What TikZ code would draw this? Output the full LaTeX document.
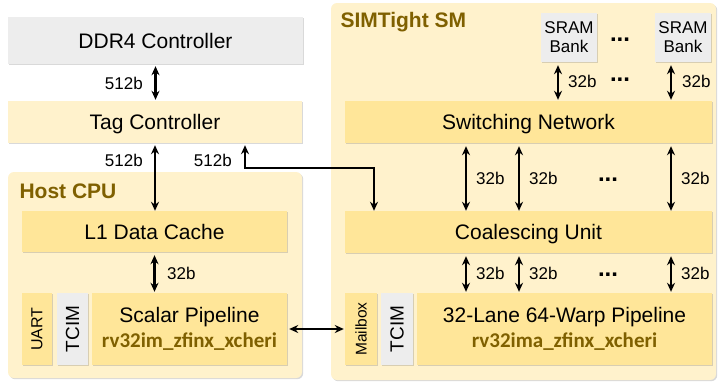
\documentclass[tikz,border=0pt]{standalone}
\usepackage{fontspec}
\setmainfont{Liberation Sans}
\newfontfamily\isafont{Carlito}
\usetikzlibrary{arrows.meta,shadows}

\definecolor{palegold}{HTML}{FFF2CC}
\definecolor{midgold}{HTML}{FFE699}
\definecolor{boxgray}{HTML}{EDEDED}
\definecolor{olive}{HTML}{7F6000}

\tikzset{
    base/.style={draw=none, inner sep=0pt, font=\fontsize{21}{24}\selectfont,
        drop shadow={shadow xshift=1.2pt, shadow yshift=-1.2pt, opacity=0.25, fill=black!60}},
    oneline/.style={text height=15pt, text depth=0pt},
    grayblk/.style={base, fill=boxgray},
    paleblk/.style={base, fill=palegold},
    midblk/.style={base, fill=midgold},
    group/.style={base, fill=palegold, rounded corners=6pt},
    grouptitle/.style={anchor=west, text=olive, font=\fontsize{21}{24}\selectfont\bfseries},
    link/.style={line width=2.4pt, {Stealth[length=9pt,width=8pt]}-{Stealth[length=9pt,width=8pt]}},
    width/.style={font=\fontsize{17}{20}\selectfont, inner sep=0pt},
    dots/.style={font=\fontsize{24}{26}\selectfont\bfseries, inner sep=0pt},
}

\begin{document}
\begin{tikzpicture}[x=1pt, y=-1pt]
    \useasboundingbox (0,0) rectangle (719,383);

    % outer groups
    \node[group, minimum width=294pt, minimum height=206pt] (host) at (155,275) {};
    \node[group, minimum width=385pt, minimum height=377pt] (sm) at (523.5,191.5) {};
    \node[grouptitle] (hosttitle) at (16,191) {Host CPU};
    \node[grouptitle] (smtitle) at (337,22) {SIMTight SM};

    % memory side
    \node[grayblk, oneline, minimum width=295pt, minimum height=47pt] (ddr) at (155.5,40.5) {DDR4 Controller};
    \node[paleblk, oneline, minimum width=294pt, minimum height=42pt] (tag) at (155,122) {Tag Controller};

    % host cpu
    \node[midblk, oneline, minimum width=265pt, minimum height=41pt] (l1) at (154.5,231.5) {L1 Data Cache};
    \node[midblk, minimum width=30pt, minimum height=72pt] (uart) at (37,329)
        {\rotatebox{90}{\fontsize{16}{18}\selectfont UART}};
    \node[grayblk, minimum width=31pt, minimum height=72pt] (tcimhost) at (72.5,329)
        {\rotatebox{90}{\fontsize{19}{21}\selectfont TCIM}};
    \node[midblk, minimum width=195pt, minimum height=72pt, align=center] (scalar) at (189.5,329)
        {Scalar Pipeline\\[1pt] {\isafont\bfseries\color{olive}rv32im\_zfinx\_xcheri}};

    % simt side
    \node[grayblk, minimum width=56pt, minimum height=49pt, align=center,
        font=\fontsize{17}{19}\selectfont] (sramA) at (569,37.5) {SRAM\\Bank};
    \node[grayblk, minimum width=56pt, minimum height=49pt, align=center,
        font=\fontsize{17}{19}\selectfont] (sramB) at (683,37.5) {SRAM\\Bank};
    \node[midblk, oneline, minimum width=367pt, minimum height=42pt] (switch) at (528.5,122) {Switching Network};
    \node[midblk, oneline, minimum width=367pt, minimum height=42pt] (coal) at (528.5,232) {Coalescing Unit};
    \node[midblk, minimum width=32pt, minimum height=72pt] (mailbox) at (361,329)
        {\rotatebox{90}{\fontsize{15.5}{17}\selectfont Mailbox}};
    \node[grayblk, minimum width=32pt, minimum height=72pt] (tcimsm) at (397,329)
        {\rotatebox{90}{\fontsize{19}{21}\selectfont TCIM}};
    \node[midblk, minimum width=295pt, minimum height=72pt, align=center] (warp) at (564.5,329)
        {32-Lane 64-Warp Pipeline\\[1pt] {\isafont\bfseries\color{olive}rv32ima\_zfinx\_xcheri}};

    % host side links
    \draw[link] ([yshift=-2pt]ddr.south) -- ([yshift=1pt]ddr.south |- tag.north);
    \node[width, anchor=east] (wddr) at (143,83) {512b};
    \draw[link] ([yshift=-2pt]tag.south) -- (tag.south |- l1.north);
    \node[width, anchor=east] (wtag) at (143,160) {512b};
    \coordinate (bend) at (374,168);
    \draw[link] ([xshift=90pt, yshift=-2pt]tag.south) |- (bend) -- (bend |- coal.north);
    \node[width, anchor=east] (wsm) at (232,160) {512b};
    \draw[link] ([yshift=-3pt]l1.south) -- ([yshift=1pt]l1.south |- scalar.north);
    \node[width, anchor=west] (wl1) at (167,273) {32b};
    \draw[link] ([xshift=2pt]scalar.east) -- ([xshift=-1pt]mailbox.west);

    % bank links
    \draw[link] ([yshift=-3pt]sramA.south -| 558,0) -- ([yshift=1pt]switch.north -| 558,0);
    \draw[link] ([yshift=-3pt]sramB.south -| 671,0) -- ([yshift=1pt]switch.north -| 671,0);
    \node[width, anchor=west] (wsa) at (568,81) {32b};
    \node[width, anchor=west] (wsb) at (682,81) {32b};
    \node[dots] (dotsbank) at (620,40) {...};
    \node[dots] (dotslink) at (620,80) {...};

    % lane links
    \foreach \x in {466,519,671} {
        \draw[link] ([yshift=-3pt]switch.south -| \x,0) -- (coal.north -| \x,0);
        \node[width, anchor=west] at (\x+10,178) {32b};
        \draw[link] ([yshift=-3pt]coal.south -| \x,0) -- ([yshift=1pt]warp.north -| \x,0);
        \node[width, anchor=west] at (\x+10,273) {32b};
    }
    \node[dots] (dotsswitch) at (608,180) {...};
    \node[dots] (dotscoal) at (608,275) {...};
\end{tikzpicture}
\end{document}
